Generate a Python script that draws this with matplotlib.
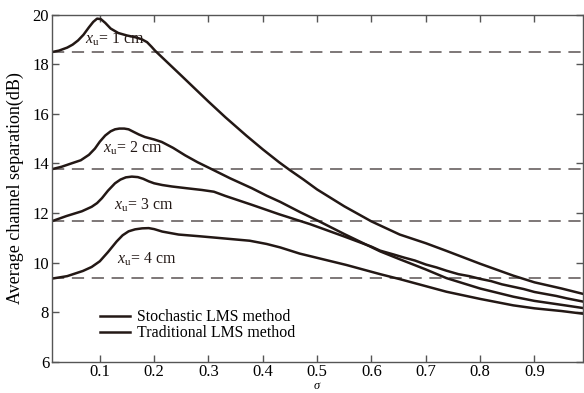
import matplotlib
matplotlib.use("Agg")
import matplotlib.pyplot as plt
from matplotlib.lines import Line2D

plt.rcParams['font.family'] = 'Liberation Serif'
plt.rcParams['mathtext.fontset'] = 'custom'
plt.rcParams['mathtext.rm'] = 'Liberation Serif'
plt.rcParams['mathtext.it'] = 'Liberation Serif:italic'

# curve data
sig1 = [0.012, 0.025, 0.04, 0.05, 0.06, 0.07, 0.08, 0.088, 0.095, 0.102, 0.11, 0.12, 0.134,
        0.15, 0.165, 0.177, 0.187, 0.195, 0.202, 0.25, 0.3, 0.331, 0.37, 0.4, 0.43, 0.45,
        0.475, 0.5, 0.55, 0.6, 0.652, 0.7, 0.738, 0.8, 0.861, 0.9, 0.95, 0.99]
sep1 = [18.5, 18.56, 18.68, 18.8, 18.97, 19.2, 19.5, 19.72, 19.85, 19.83, 19.68, 19.45, 19.27,
        19.17, 19.1, 19.02, 18.9, 18.72, 18.55, 17.55, 16.5, 15.87, 15.12, 14.57, 14.05, 13.73,
        13.35, 12.95, 12.27, 11.66, 11.13, 10.78, 10.47, 9.95, 9.47, 9.2, 8.95, 8.73]

sig2 = [0.012, 0.03, 0.05, 0.065, 0.08, 0.091, 0.1, 0.11, 0.12, 0.128, 0.136, 0.145, 0.153,
        0.162, 0.172, 0.183, 0.2, 0.214, 0.235, 0.257, 0.28, 0.306, 0.34, 0.38, 0.407, 0.432,
        0.47, 0.505, 0.55, 0.6, 0.616, 0.65, 0.7, 0.738, 0.8, 0.861, 0.9, 0.95, 0.99]
sep2 = [13.77, 13.87, 14.02, 14.13, 14.35, 14.6, 14.88, 15.13, 15.3, 15.38, 15.41, 15.41, 15.38,
        15.28, 15.17, 15.07, 14.97, 14.87, 14.63, 14.33, 14.05, 13.77, 13.4, 13.0, 12.7, 12.45,
        12.02, 11.65, 11.15, 10.62, 10.45, 10.15, 9.72, 9.37, 8.95, 8.62, 8.45, 8.29, 8.16]

sig3 = [0.012, 0.039, 0.067, 0.085, 0.095, 0.104, 0.115, 0.128, 0.138, 0.148, 0.159, 0.17,
        0.18, 0.19, 0.2, 0.215, 0.233, 0.26, 0.288, 0.31, 0.331, 0.38, 0.43, 0.487, 0.55, 0.6,
        0.616, 0.64, 0.66, 0.68, 0.7, 0.72, 0.738, 0.76, 0.78, 0.8, 0.82, 0.84, 0.861, 0.88,
        0.9, 0.92, 0.94, 0.96, 0.99]
sep3 = [11.67, 11.88, 12.07, 12.25, 12.4, 12.6, 12.9, 13.2, 13.35, 13.44, 13.47, 13.45,
        13.38, 13.28, 13.2, 13.13, 13.07, 13.0, 12.93, 12.86, 12.69, 12.33, 11.95, 11.55, 11.05,
        10.64, 10.48, 10.33, 10.2, 10.08, 9.92, 9.8, 9.67, 9.53, 9.45, 9.34, 9.25, 9.12, 9.02,
        8.93, 8.81, 8.73, 8.65, 8.55, 8.42]

sig4 = [0.012, 0.04, 0.069, 0.085, 0.1, 0.115, 0.131, 0.142, 0.153, 0.165, 0.178, 0.19, 0.2,
        0.215, 0.245, 0.284, 0.315, 0.376, 0.407, 0.432, 0.468, 0.554, 0.616, 0.652, 0.738,
        0.8, 0.861, 0.9, 0.95, 0.99]
sep4 = [9.35, 9.45, 9.66, 9.82, 10.05, 10.42, 10.85, 11.1, 11.26, 11.34, 11.38, 11.39, 11.35,
        11.25, 11.13, 11.06, 11.0, 10.88, 10.75, 10.61, 10.36, 9.9, 9.53, 9.33, 8.82, 8.53,
        8.27, 8.15, 8.04, 7.93]

curves = [(sig1, sep1), (sig2, sep2), (sig3, sep3), (sig4, sep4)]
baselines = [18.5, 13.76, 11.66, 9.37]
labels = ['1', '2', '3', '4']
label_pos = [(0.072, 19.0), (0.106, 14.6), (0.127, 12.33), (0.131, 10.13)]

line_color = '#231815'
dash_color = '#5a5252'

fig = plt.figure(figsize=(5.84, 3.93), dpi=100)
ax = fig.add_axes([0.089, 0.08, 0.909, 0.882])

for y0 in baselines:
    ax.axhline(y0, color=dash_color, lw=1.1, dashes=(8, 5))

for s, v in curves:
    ax.plot(s, v, color=line_color, lw=1.8)

for lab, (xt, yt) in zip(labels, label_pos):
    ax.text(xt, yt, r'$x_{\mathrm{u}}$= ' + lab + ' cm', fontsize=11.4,
            va='center', ha='left', color=line_color)

ax.set_xlim(0.012, 0.989)
ax.set_ylim(6, 20)
ax.set_xticks([0.1, 0.2, 0.3, 0.4, 0.5, 0.6, 0.7, 0.8, 0.9])
ax.set_xticklabels(['0.1', '0.2', '0.3', '0.4', '0.5', '0.6', '0.7', '0.8', '0.9'])
ax.set_yticks([6, 8, 10, 12, 14, 16, 18, 20])
ax.tick_params(direction='in', top=True, right=True, length=5, width=1,
               color='#555555', labelsize=12, pad=2)
for sp in ax.spines.values():
    sp.set_color('#555555')
    sp.set_linewidth(1)

ax.set_xlabel(r'$\sigma$', fontsize=9, labelpad=0)
ax.set_ylabel('Average channel separation(dB)', fontsize=13, labelpad=6)

handles = [Line2D([], [], color=line_color, lw=1.8),
           Line2D([], [], color=line_color, lw=1.8)]
ax.legend(handles, ['Stochastic LMS method', 'Traditional LMS method'],
          loc='lower left', bbox_to_anchor=(0.079, 0.04), frameon=False,
          fontsize=11.4, handlelength=1.9, handletextpad=0.4, labelspacing=0.0,
          borderaxespad=0)

fig.savefig('out.png', dpi=100)
